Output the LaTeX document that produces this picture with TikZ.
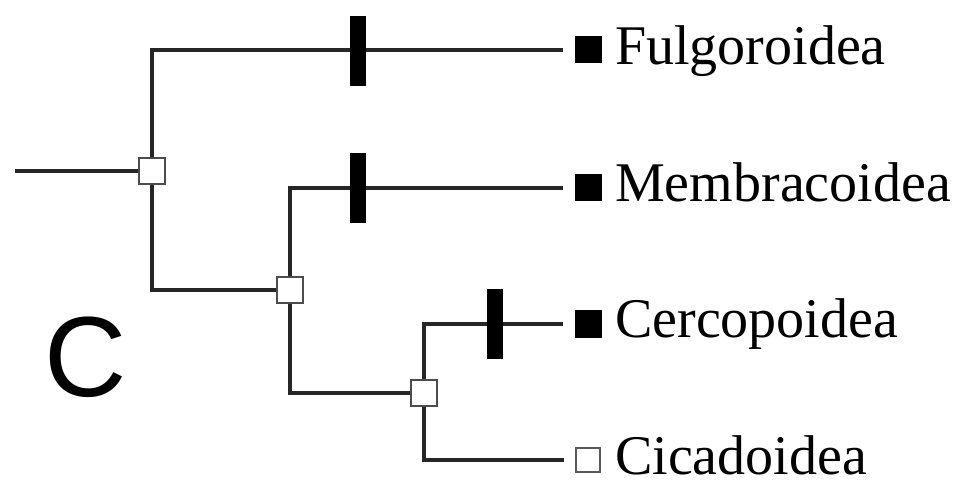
\documentclass[tikz,border=0pt]{standalone}
\usepackage{fontspec}
\setmainfont{Liberation Serif}
\newfontfamily\panelfont{Liberation Sans}
\begin{document}
\begin{tikzpicture}[x=1bp,y=-1bp,
  branch/.style={line width=3.2bp, draw=black!85},
  innernode/.style={rectangle, draw=black!70, line width=1.6bp, fill=white,
    minimum size=26bp, inner sep=0pt},
  leafon/.style={rectangle, fill=black, minimum size=27bp, inner sep=0pt},
  leafoff/.style={rectangle, draw=black!65, line width=1.4bp, fill=white,
    minimum size=24bp, inner sep=0pt},
  synapo/.style={rectangle, fill=black, minimum width=16bp, minimum height=70bp,
    inner sep=0pt},
  taxon/.style={anchor=base west, inner sep=0pt,
    font=\fontsize{56bp}{60bp}\selectfont},
  gap/.style={shorten >=11bp}]
\useasboundingbox (0,0) rectangle (958,480);

% internal nodes of the tree
\coordinate (root) at (15,171);
\node[innernode] (n1) at (152,171) {};
\node[innernode] (n2) at (290,290) {};
\node[innernode] (n3) at (424,393) {};

% character states at the tips
\node[leafon]  (s1) at (588,50)  {};
\node[leafon]  (s2) at (588,188) {};
\node[leafon]  (s3) at (588,324) {};
\node[leafoff] (s4) at (588,460) {};

% branches
\draw[branch] (root) -- (n1.west);
\draw[branch, gap] (n1.north) |- (s1.west);
\draw[branch] (n1.south) |- (n2.west);
\draw[branch, gap] (n2.north) |- (s2.west);
\draw[branch] (n2.south) |- (n3.west);
\draw[branch, gap] (n3.north) |- (s3.west);
\draw[branch, gap] (n3.south) |- (s4.west);

% state changes on branches
\node[synapo] (t1) at (358,51)  {};
\node[synapo] (t2) at (358,188) {};
\node[synapo] (t3) at (495,324) {};

% taxon names
\node[taxon] (l1) at (615,65)  {Fulgoroidea};
\node[taxon] (l2) at (615,202) {Membracoidea};
\node[taxon] (l3) at (615,338) {Cercopoidea};
\node[taxon] (l4) at (615,474) {Cicadoidea};

% panel letter
\node[anchor=base, inner sep=0pt, font=\panelfont\fontsize{114bp}{120bp}\selectfont]
  (panel) at (86,396) {C};
\end{tikzpicture}
\end{document}
